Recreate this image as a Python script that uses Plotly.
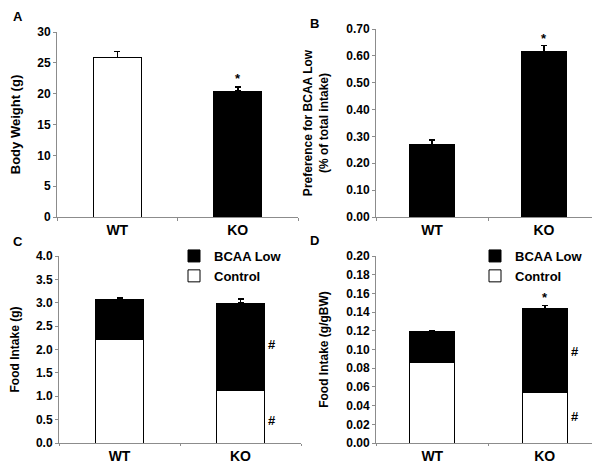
import plotly.graph_objects as go

groups = ["WT", "KO"]

# Panel A: body weight (g)
bw_mean = [25.9, 20.4]
bw_err = [0.9, 0.7]
# Panel B: preference for BCAA Low
pref_mean = [0.269, 0.617]
pref_err = [0.017, 0.022]
# Panel C: food intake (g), stacked
fi_control = [2.21, 1.13]
fi_bcaa = [0.86, 1.86]
fi_err = [0.03, 0.09]
# Panel D: food intake (g/gBW), stacked
fibw_control = [0.0859, 0.0543]
fibw_bcaa = [0.0331, 0.0897]
fibw_err = [0.0015, 0.0028]

# significance marks: (axis, group, y, text, xshift)
sig_marks = [
    ("", "KO", 22.5, "*", 0),
    ("2", "KO", 0.663, "*", 0),
    ("3", "KO", 2.1, "#", 31),
    ("3", "KO", 0.49, "#", 31),
    ("4", "KO", 0.156, "*", 0),
    ("4", "KO", 0.098, "#", 30),
    ("4", "KO", 0.028, "#", 30),
]

FONT = "Liberation Sans, Arial, sans-serif"
AX = "#8c8c8c"
W, H = 600, 464

def fx(px):
    return px / W

def fy(py):
    return 1 - py / H

err_style = dict(type="data", symmetric=False, color="black", thickness=1.5, width=3)

fig = go.Figure()

# A
fig.add_trace(go.Bar(x=groups, y=bw_mean, width=0.4,
                     marker=dict(color=["white", "black"], line=dict(color="black", width=1)),
                     error_y=dict(array=bw_err, arrayminus=[0, 0], **err_style),
                     xaxis="x", yaxis="y", showlegend=False))
# B
fig.add_trace(go.Bar(x=groups, y=pref_mean, width=0.4,
                     marker=dict(color="black", line=dict(color="black", width=1)),
                     error_y=dict(array=pref_err, arrayminus=[0, 0], **err_style),
                     xaxis="x2", yaxis="y2", showlegend=False))
# C
fig.add_trace(go.Bar(x=groups, y=fi_control, width=0.4, name="Control",
                     marker=dict(color="white", line=dict(color="black", width=1)),
                     xaxis="x3", yaxis="y3", legend="legend"))
fig.add_trace(go.Bar(x=groups, y=fi_bcaa, width=0.4, name="BCAA Low",
                     marker=dict(color="black", line=dict(color="black", width=1)),
                     error_y=dict(array=fi_err, arrayminus=[0, 0], **err_style),
                     xaxis="x3", yaxis="y3", legend="legend"))
# D
fig.add_trace(go.Bar(x=groups, y=fibw_control, width=0.4, name="Control",
                     marker=dict(color="white", line=dict(color="black", width=1)),
                     xaxis="x4", yaxis="y4", legend="legend2"))
fig.add_trace(go.Bar(x=groups, y=fibw_bcaa, width=0.4, name="BCAA Low",
                     marker=dict(color="black", line=dict(color="black", width=1)),
                     error_y=dict(array=fibw_err, arrayminus=[0, 0], **err_style),
                     xaxis="x4", yaxis="y4", legend="legend2"))

def xax(dom, anchor, tl=3):
    return dict(domain=dom, anchor=anchor, type="category", tickson="boundaries",
                ticks="outside", ticklen=tl, tickcolor=AX, showline=True, linecolor=AX,
                linewidth=1, showgrid=False, zeroline=False, automargin=False,
                tickfont=dict(family=FONT, size=14, color="black", weight="bold"))

def yax(dom, anchor, rng, dtick, fmt, title, tsize=12):
    return dict(domain=dom, anchor=anchor, range=rng, dtick=dtick, tickformat=fmt,
                ticks="outside", ticklen=3, tickcolor=AX, showline=True, linecolor=AX,
                linewidth=1, showgrid=False, zeroline=False, automargin=False,
                tickfont=dict(family=FONT, size=12, color="black", weight="bold"),
                title=dict(text=title, font=dict(family=FONT, size=tsize, color="black", weight="bold")))

top_dom = [fy(209), fy(24)]
topB_dom = [fy(209), fy(21)]
bot_dom = [fy(435), fy(248)]

leg_font = dict(family=FONT, size=13, color="black", weight="bold")

fig.update_layout(
    width=W, height=H,
    margin=dict(l=0, r=0, t=0, b=0),
    paper_bgcolor="white", plot_bgcolor="white",
    barmode="stack", bargap=0.6,
    font=dict(family=FONT, color="black"),
    xaxis=xax([fx(49), fx(290)], "y"),
    yaxis=yax(top_dom, "x", [0, 30], 5, "d", "Body Weight (g)", 13),
    xaxis2=xax([fx(368), fx(592)], "y2"),
    yaxis2=yax(topB_dom, "x2", [0, 0.70], 0.10, ".2f", "Preference for BCAA Low<br>(% of total intake)"),
    xaxis3=xax([fx(51), fx(293)], "y3", 2),
    yaxis3=yax(bot_dom, "x3", [0, 4.0], 0.5, ".1f", "Food Intake (g)"),
    xaxis4=xax([fx(368), fx(593)], "y4", 2),
    yaxis4=yax(bot_dom, "x4", [0, 0.20], 0.02, ".2f", "Food Intake (g/gBW)"),
    legend=dict(x=fx(166), y=fy(233), xanchor="left", yanchor="top", traceorder="reversed",
                bgcolor="rgba(0,0,0,0)", itemwidth=30, tracegroupgap=0, font=leg_font),
    legend2=dict(x=fx(467), y=fy(233), xanchor="left", yanchor="top", traceorder="reversed",
                 bgcolor="rgba(0,0,0,0)", itemwidth=30, tracegroupgap=0, font=leg_font),
)

annotations = []
for lab, px, py in [("A", 10, 9), ("B", 306, 15), ("C", 10, 233), ("D", 306, 232)]:
    annotations.append(dict(text=lab, x=fx(px), y=fy(py), xref="paper", yref="paper",
                            showarrow=False, xanchor="center", yanchor="middle",
                            font=dict(family=FONT, size=13, color="black", weight="bold")))
for ax, g, yv, txt, xs in sig_marks:
    annotations.append(dict(text=txt, x=g, y=yv, xref="x" + ax, yref="y" + ax,
                            showarrow=False, xshift=xs, xanchor="center", yanchor="middle",
                            font=dict(family=FONT, size=13, color="black", weight="bold")))
fig.update_layout(annotations=annotations)

fig.write_html("out.html")
